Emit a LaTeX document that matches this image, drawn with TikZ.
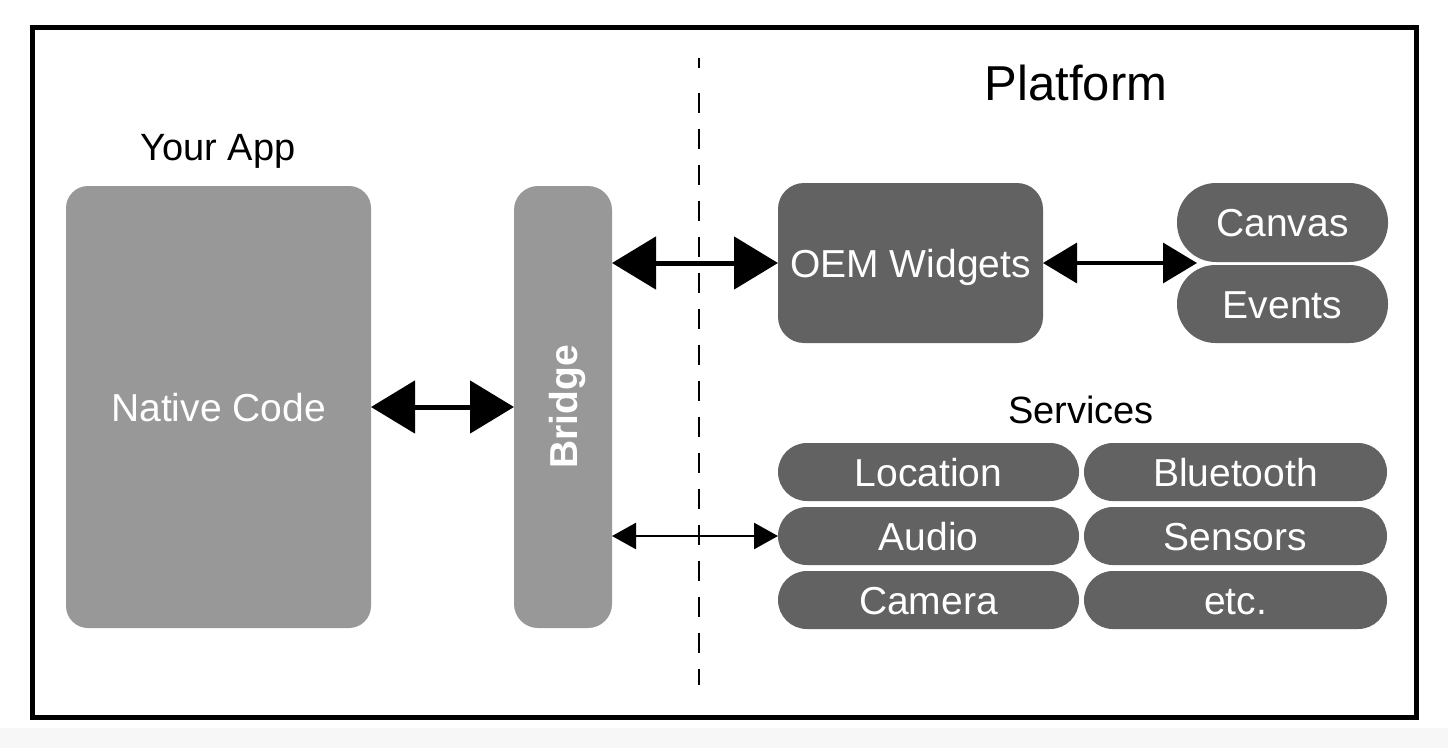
\documentclass[tikz,border=0pt]{standalone}
\usepackage{fontspec}
\setmainfont{Liberation Sans}
\usetikzlibrary{arrows.meta}
\definecolor{lightbox}{HTML}{989898}
\definecolor{darkbox}{HTML}{626262}
\begin{document}
\begin{tikzpicture}[x=1pt,y=-1pt,
  lbl/.style={font=\fontsize{39}{44}\selectfont, text height=28pt, text depth=0pt, inner sep=0pt, outer sep=0pt, align=center},
  lightblk/.style={lbl, fill=lightbox, text=white, rounded corners=22pt},
  darkblk/.style={lbl, fill=darkbox, text=white, rounded corners=26pt},
  pill/.style={lbl, fill=darkbox, text=white, rounded corners=#1},
  title/.style={font=\fontsize{#1}{#1}\selectfont, inner sep=0pt, anchor=base},
  bigarrow/.style={line width=5pt, {Triangle[length=44pt,width=52pt]}-{Triangle[length=44pt,width=52pt]}},
  midarrow/.style={line width=3.5pt, {Triangle[length=34pt,width=40pt]}-{Triangle[length=34pt,width=40pt]}},
  smallarrow/.style={line width=2.5pt, {Triangle[length=24pt,width=26pt]}-{Triangle[length=24pt,width=26pt]}},
  sep/.style={line width=1.5pt, dash pattern=on 10pt off 25pt on 20pt off 16pt on 20pt off 16pt on 20pt off 16pt on 20pt off 16pt on 20pt off 16pt on 20pt off 16pt on 20pt off 16pt on 20pt off 16pt on 20pt off 16pt on 20pt off 16pt on 20pt off 16pt on 20pt off 16pt on 20pt off 16pt on 20pt off 16pt on 20pt off 16pt on 20pt off 16pt on 20pt off 16pt}
]
\useasboundingbox (0,0) rectangle (1448,748);
\fill[white] (0,0) rectangle (1448,728);
\fill[black!3] (0,728) rectangle (1448,748);
\draw[line width=5pt] (32,27.5) rectangle (1416,717);

% separator
\coordinate (septop) at (699,58);
\coordinate (sepbot) at (699,685);
\draw[sep] (septop) -- (sepbot);

% titles
\node[title=38] (yourapp) at (218,160) {Your App};
\node[title=49] (platform) at (1076,100) {Platform};
\node[title=38] (services) at (1081,423) {Services};

% left side
\node[lightblk, minimum width=305pt, minimum height=442pt] (native) at (218.5,407) {Native Code};
\node[lightblk, rounded corners=24pt, minimum width=98pt, minimum height=442pt] (bridge) at (563,407) {};
\node[lbl, text=white, font=\fontsize{39}{44}\selectfont\bfseries, rotate=90] (bridgelbl) at (563,407) {Bridge};

% platform widgets
\node[darkblk, minimum width=265pt, minimum height=160pt] (oem) at (910.5,263) {OEM Widgets};
\node[pill=39pt, minimum width=211pt, minimum height=79pt] (canvas) at (1282.5,222.5) {Canvas};
\node[pill=38.5pt, minimum width=211pt, minimum height=78pt] (events) at (1282.5,304) {Events};
\coordinate (ce) at (1197,263);

% services
\node[pill=28.9pt, minimum width=301pt, minimum height=58pt] (location) at (928.5,472) {Location};
\node[pill=28.9pt, minimum width=303pt, minimum height=58pt] (bluetooth) at (1235.5,472) {Bluetooth};
\node[pill=28.9pt, minimum width=301pt, minimum height=58pt] (audio) at (928.5,536) {Audio};
\node[pill=28.9pt, minimum width=303pt, minimum height=58pt] (sensors) at (1235.5,536) {Sensors};
\node[pill=28.9pt, minimum width=301pt, minimum height=58pt] (camera) at (928.5,600) {Camera};
\node[pill=28.9pt, minimum width=303pt, minimum height=58pt] (etc) at (1235.5,600) {etc.};

% connectors
\draw[bigarrow] (native.east) -- (bridge.west |- native.east);
\draw[bigarrow] (bridge.east |- oem.west) -- (oem.west);
\draw[midarrow] (oem.east) -- (ce);
\draw[smallarrow] (bridge.east |- audio.west) -- (audio.west);
\end{tikzpicture}
\end{document}
